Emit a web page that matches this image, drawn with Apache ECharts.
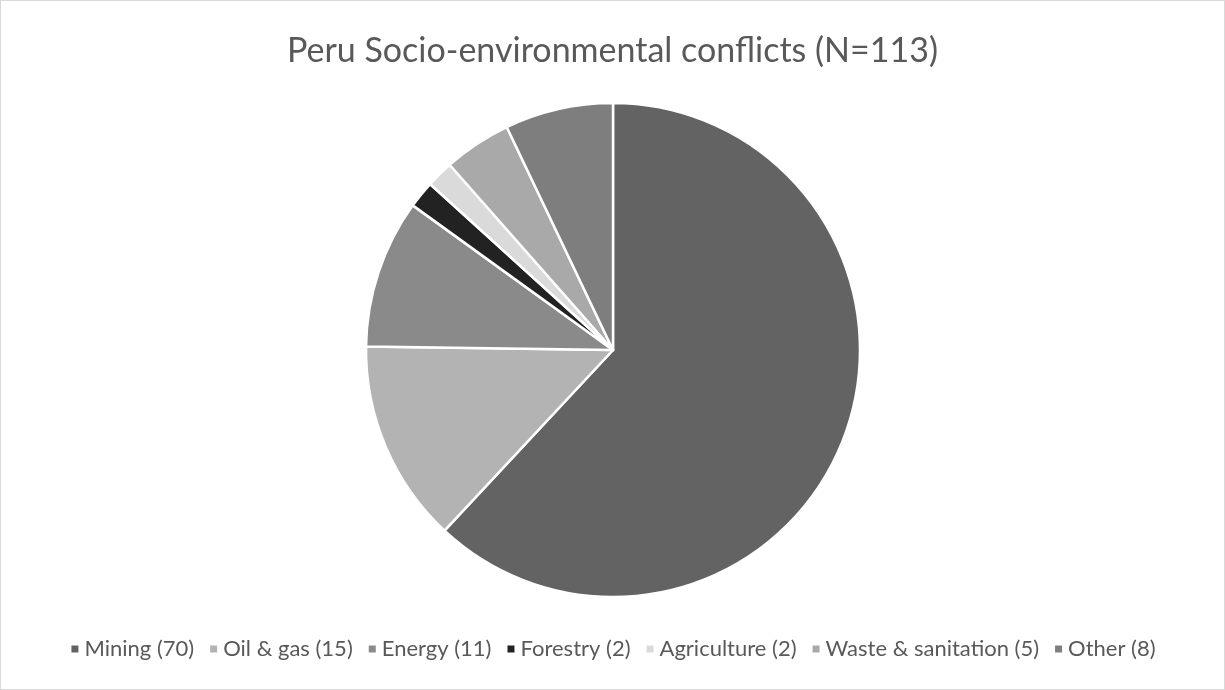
<!DOCTYPE html>
<html>
<head>
<meta charset="utf-8">
<script src="https://cdn.jsdelivr.net/npm/echarts@6/dist/echarts.min.js"></script>
<style>
  html, body { margin: 0; padding: 0; background: #fff; }
  #chart { width: 1225px; height: 690px; box-sizing: border-box; border: 1px solid #d9d9d9; }
</style>
</head>
<body>
<div id="chart"></div>
<script>
const categories = ['Mining (70)', 'Oil & gas (15)', 'Energy (11)', 'Forestry (2)', 'Agriculture (2)', 'Waste & sanitation (5)', 'Other (8)'];
const values = [70, 15, 11, 2, 2, 5, 8];
const colors = ['#636363', '#b3b3b3', '#8a8a8a', '#222222', '#dadada', '#a9a9a9', '#7e7e7e'];

const chart = echarts.init(document.getElementById('chart'), null, { renderer: 'canvas' });
chart.setOption({
  animation: false,
  title: {
    text: 'Peru Socio-environmental conflicts (N=113)',
    left: 'center',
    top: 28,
    textStyle: { fontFamily: 'Lato', fontSize: 34, fontWeight: 'normal', color: '#595959' }
  },
  legend: {
    bottom: 24,
    left: 'center',
    icon: 'rect',
    itemWidth: 9,
    itemHeight: 9,
    itemGap: 14,
    textStyle: { fontFamily: 'Lato', fontSize: 22, color: '#595959' },
    data: categories
  },
  color: colors,
  series: [{
    type: 'pie',
    center: [612, 349],
    radius: [0, 247],
    startAngle: 90,
    clockwise: true,
    label: { show: false },
    labelLine: { show: false },
    itemStyle: { borderColor: '#ffffff', borderWidth: 2.5 },
    emphasis: { disabled: true },
    data: categories.map((name, i) => ({ name, value: values[i] }))
  }]
});
</script>
</body>
</html>
